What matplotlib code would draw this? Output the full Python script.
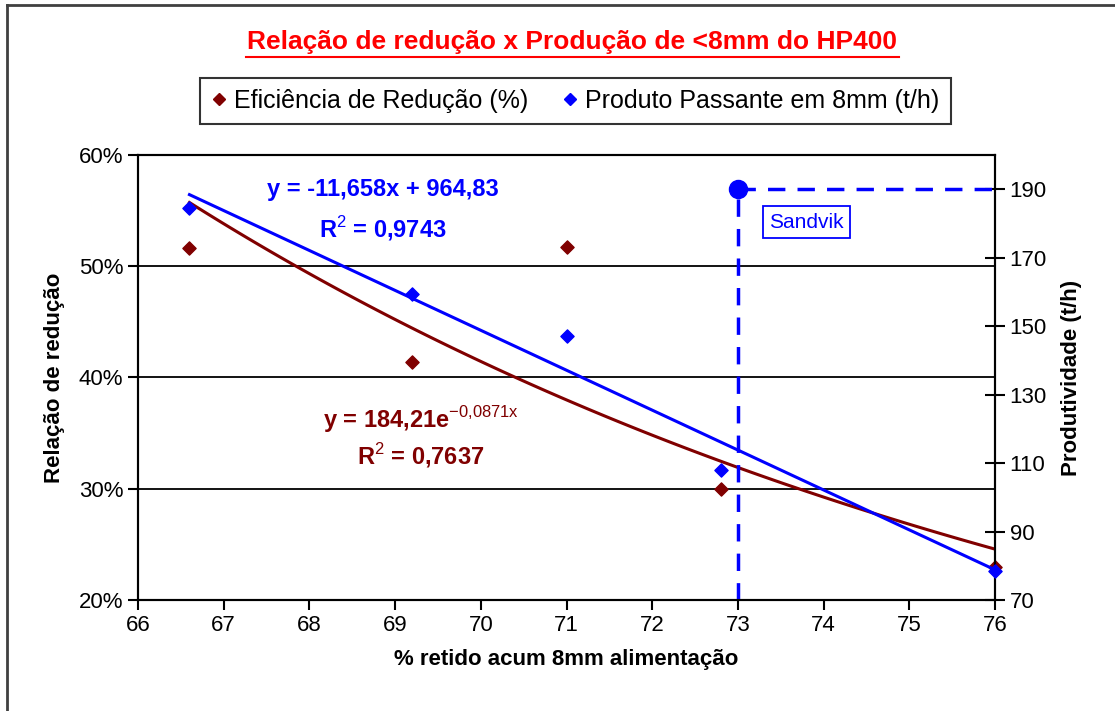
import numpy as np
import matplotlib.pyplot as plt
from matplotlib.lines import Line2D
from matplotlib.ticker import FuncFormatter

plt.rcParams['font.family'] = ['Liberation Sans', 'DejaVu Sans']
plt.rcParams['mathtext.fontset'] = 'custom'
plt.rcParams['mathtext.rm'] = 'Liberation Sans'

# data
x_alim = [66.6, 69.2, 71.0, 72.8, 76.0]
eficiencia = [0.516, 0.414, 0.517, 0.300, 0.230]
produto = [184.5, 159.4, 147.0, 108.0, 78.5]
lin_a, lin_b = -11.658, 964.83          # y = -11,658x + 964,83
exp_a, exp_b = 184.21, -0.0871          # y = 184,21e^(-0,0871x)
sandvik_x, sandvik_y = 73, 190

dark_red = '#800000'
blue = '#0000FF'

fig = plt.figure(figsize=(11.15, 7.11), dpi=100)
ax = fig.add_axes([0.1238, 0.1561, 0.7686, 0.626])
ax2 = ax.twinx()

# trendlines
xs = np.linspace(min(x_alim), max(x_alim), 100)
ax.plot(xs, exp_a * np.exp(exp_b * xs), color=dark_red, lw=2.2, zorder=3)
ax2.plot([min(x_alim), max(x_alim)], [lin_a * min(x_alim) + lin_b, lin_a * max(x_alim) + lin_b],
         color=blue, lw=2.2, zorder=3)

ax.scatter(x_alim, eficiencia, marker='D', s=45, color=dark_red, zorder=4, clip_on=False)
ax2.scatter(x_alim, produto, marker='D', s=45, color=blue, zorder=4, clip_on=False)

# Sandvik reference
ax2.plot([sandvik_x, sandvik_x], [70, sandvik_y], color=blue, lw=2.5, ls=(0, (5, 3.5)))
ax2.plot([sandvik_x, 76], [sandvik_y, sandvik_y], color=blue, lw=2.5, ls=(0, (5, 3.5)))
ax2.plot([sandvik_x], [sandvik_y], marker='o', ms=13, color=blue, zorder=5)
ax2.text(73.8, 180.4, 'Sandvik', color=blue, fontsize=15, ha='center', va='center',
         bbox=dict(boxstyle='square,pad=0.3', fc='white', ec=blue, lw=1.3))

# grid
for g in [0.3, 0.4, 0.5]:
    ax.axhline(g, color='black', lw=1.3, zorder=1)

ax.set_xlim(66, 76)
ax.set_ylim(0.2, 0.6)
ax2.set_ylim(70, 200)
ax.set_xticks(range(66, 77))
ax.set_yticks([0.2, 0.3, 0.4, 0.5, 0.6])
ax2.set_yticks(range(70, 200, 20))
ax.yaxis.set_major_formatter(FuncFormatter(lambda v, p: f'{v * 100:.0f}%'))

for a in (ax, ax2):
    for s in a.spines.values():
        s.set_linewidth(1.5)
ax.tick_params(axis='both', labelsize=16, width=1.5, length=7, direction='out')
ax2.tick_params(axis='y', labelsize=16, width=1.5, length=14, direction='inout')

ax.set_xlabel('% retido acum 8mm alimentação', fontsize=16, fontweight='bold', labelpad=10)
ax.set_ylabel('Relação de redução', fontsize=16, fontweight='bold', labelpad=10)
ax2.set_ylabel('Produtividade (t/h)', fontsize=16, fontweight='bold', labelpad=10)

# equations
ax.text(68.86, 0.5685, 'y = -11,658x + 964,83', color=blue, fontsize=17, fontweight='bold',
        ha='center', va='center')
ax.text(68.86, 0.534, 'R$^{2}$ = 0,9743', color=blue, fontsize=17, fontweight='bold',
        ha='center', va='center')
ax.text(69.3, 0.362, 'y = 184,21e$^{\\mathrm{-0{,}0871x}}$', color=dark_red, fontsize=17,
        fontweight='bold', ha='center', va='center')
ax.text(69.3, 0.330, 'R$^{2}$ = 0,7637', color=dark_red, fontsize=17, fontweight='bold',
        ha='center', va='center')

fig.text(0.513, 1 - 42 / 711, 'Relação de redução x Produção de <8mm do HP400', color='#FF0000',
         fontsize=19, fontweight='bold', ha='center', va='center')
fig.add_artist(Line2D([246 / 1115, 899 / 1115], [1 - 57 / 711, 1 - 57 / 711],
                      color='#FF0000', lw=1.5))

handles = [Line2D([], [], marker='D', ls='none', color=dark_red, ms=6),
           Line2D([], [], marker='D', ls='none', color=blue, ms=6)]
leg = fig.legend(handles, ['Eficiência de Redução (%)', 'Produto Passante em 8mm (t/h)'],
                 loc='center', bbox_to_anchor=(0.516, 1 - 101 / 711), ncol=2, fontsize=18,
                 frameon=True, fancybox=False, edgecolor='black', handlelength=0.6,
                 handletextpad=0.3, columnspacing=1.4, borderpad=0.45, borderaxespad=0)
leg.get_frame().set_linewidth(1.5)

# outer chart border (top and left visible)
fig.add_artist(Line2D([7 / 1115, 1], [1 - 5 / 711, 1 - 5 / 711], color='#404040', lw=2))
fig.add_artist(Line2D([7 / 1115, 7 / 1115], [0, 1 - 5 / 711], color='#404040', lw=2))

fig.savefig('out.png', dpi=100)
